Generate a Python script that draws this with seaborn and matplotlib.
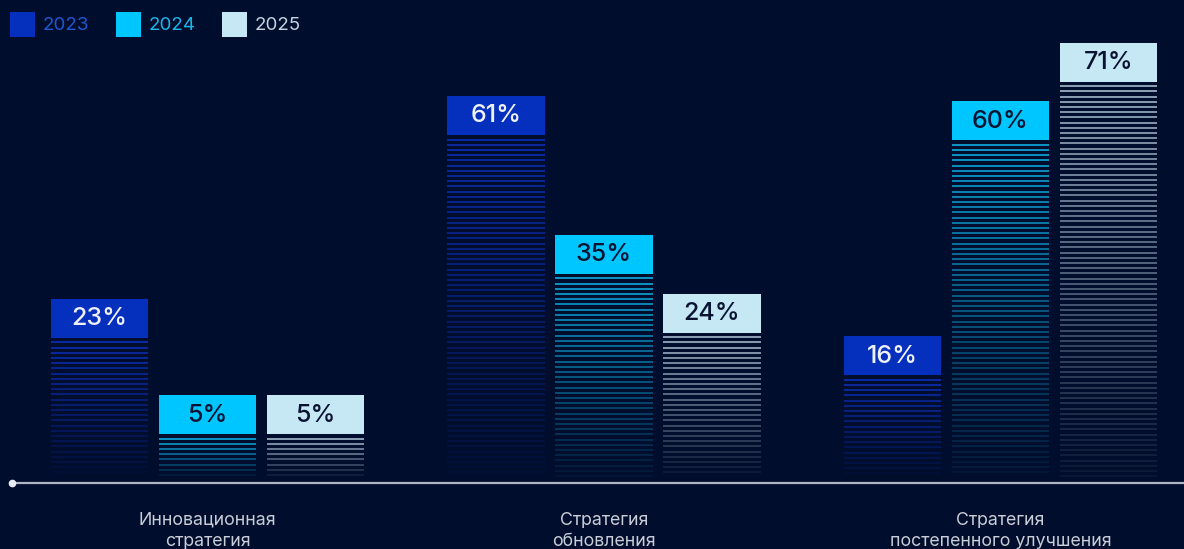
import numpy as np
import pandas as pd
import matplotlib
matplotlib.use("Agg")
import matplotlib.pyplot as plt
from matplotlib.patches import Rectangle
from matplotlib.colors import to_rgba
import seaborn as sns

# --- data -------------------------------------------------------------
categories = ["Инновационная\nстратегия", "Стратегия\nобновления",
              "Стратегия\nпостепенного улучшения"]
years = ["2023", "2024", "2025"]
values_2023 = [23, 61, 16]
values_2024 = [5, 35, 60]
values_2025 = [5, 24, 71]

bar_colors = {"2023": "#0530be", "2024": "#00c6ff", "2025": "#c6e7f4"}
stripe_colors = {"2023": "#0c33c8", "2024": "#10c0f5", "2025": "#b8cfe0"}
legend_text_colors = {"2023": "#1c58d0", "2024": "#16b8ec", "2025": "#c4d4e2"}
label_text_colors = {"2023": "#eef1f8", "2024": "#0a1432", "2025": "#0a1432"}
bg = "#010d2c"

df = pd.DataFrame({
    "category": np.repeat(categories, 3),
    "year": years * 3,
    "value": [v for trio in zip(values_2023, values_2024, values_2025) for v in trio],
})

# --- figure -------------------------------------------------------------
sns.set_theme(style="white")
plt.rcParams["font.family"] = ["Inter", "DejaVu Sans"]

W, H, DPI = 1184, 549, 100
fig = plt.figure(figsize=(W / DPI, H / DPI), dpi=DPI, facecolor=bg)
ax = fig.add_axes([0, 0, 1, 1], facecolor=bg)

sns.barplot(data=df, x="category", y="value", hue="year", hue_order=years,
            palette=bar_colors, width=0.817, gap=0.1, legend=False, ax=ax)

# pixel scale of the value axis
px_per_unit = 5.34
ax.set_xlim(-0.5233, 2.4628)
ax.set_ylim(-23.84, 78.97)
for s in ax.spines.values():
    s.set_visible(False)
ax.set_xticks([])
ax.set_yticks([])
ax.set_xlabel("")
ax.set_ylabel("")

base = -10.3                      # where the striped columns start
box_h = 39 / px_per_unit          # height of the value box
pitch = 5.2 / px_per_unit         # stripe spacing
first_gap = 4.6 / px_per_unit

n_cat = len(categories)
for i, p in enumerate(ax.patches[: n_cat * len(years)]):
    year = years[i // n_cat]
    v = p.get_height()
    x0, w = p.get_x(), p.get_width()
    p.set_visible(False)

    # value box on top
    ax.add_patch(Rectangle((x0, v - box_h), w, box_h,
                           facecolor=bar_colors[year], edgecolor="none", zorder=3))
    ax.text(x0 + w / 2, v - box_h / 2 - 0.1, f"{v:.0f}%", ha="center", va="center",
            fontsize=18, fontweight="medium", color=label_text_colors[year],
            zorder=4)

    # fading stripes below the box
    ys = np.arange(v - box_h - first_gap, base, -pitch)
    if len(ys) == 0:
        continue
    top, bot = ys[0], base
    frac = (ys - bot) / (top - bot)
    alphas = 0.06 + 0.84 * frac
    rgba = [to_rgba(stripe_colors[year], a) for a in alphas]
    ax.hlines(ys, x0, x0 + w, colors=rgba, linewidth=1.2, zorder=2)

# baseline with a dot at the left end
axis_y = -11.48
x_start = ax.get_xlim()[0] + 12 / 396.5
ax.plot([x_start, ax.get_xlim()[1]], [axis_y, axis_y], color="#aeb6c6",
        lw=1.6, solid_capstyle="butt", zorder=2)
ax.plot([x_start], [axis_y], "o", ms=4.5, color="#e8ecf4", zorder=3)

# category labels
for i, cat in enumerate(categories):
    ax.text(i, -16.85, cat, ha="center", va="top", fontsize=12.8,
            color="#c9cdd8", linespacing=1.3)

# legend
sw = 25 / W
sh = 25 / H
legend_x = [10, 116, 222]
for yr, lx in zip(years, legend_x):
    fig.patches.append(Rectangle((lx / W, 1 - 37 / H), sw, sh,
                                 transform=fig.transFigure,
                                 facecolor=bar_colors[yr], edgecolor="none"))
    fig.text((lx + 33) / W, 1 - 25.5 / H, yr, ha="left", va="center",
             fontsize=13.5, color=legend_text_colors[yr])

fig.savefig("out.png", dpi=DPI, facecolor=bg)
